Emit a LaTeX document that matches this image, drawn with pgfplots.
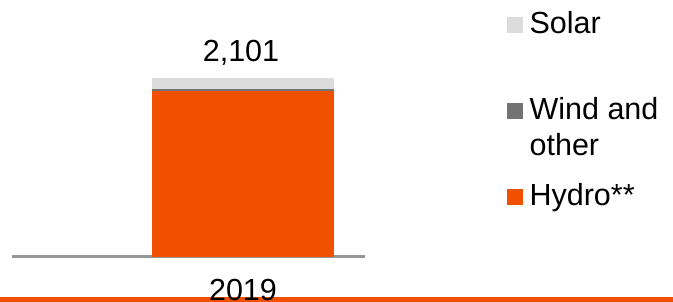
\documentclass[border=0pt]{standalone}
\usepackage{fontspec}
\setmainfont{Liberation Sans}
\usepackage{pgfplots}
\pgfplotsset{compat=1.18}
\definecolor{hydro}{RGB}{240,80,0}
\definecolor{wind}{RGB}{115,115,115}
\definecolor{solar}{RGB}{220,220,220}
\definecolor{axgray}{RGB}{150,150,150}
\begin{document}
\begin{tikzpicture}[font=\fontsize{30.5bp}{36bp}\selectfont]
\path[use as bounding box] (0,0) rectangle (673bp,302bp);
\fill[hydro] (0,0) rectangle (673bp,4.5bp);
\begin{axis}[
 at={(12bp,45.5bp)}, anchor=south west,
 scale only axis, width=353bp, height=178.5bp,
 xmin=-231, xmax=122, ymin=0, ymax=2101,
 axis x line=bottom, axis y line=none,
 x axis line style={-, draw=axgray, line width=2bp},
 ybar stacked, bar width=182,
 xtick={0}, xticklabels={2019}, major tick length=0pt,
 xticklabel style={anchor=base, yshift=-43.5bp, inner sep=0pt},
 ytick=\empty,
 clip=false,
 legend style={at={(axis cs:264,2862)}, anchor=north west, draw=none, fill=none,
   inner sep=0pt, row sep=0pt, column sep=7bp,
   nodes={inner sep=0pt, text depth=}, cells={anchor=base west}},
]
\addlegendimage{legend image code/.code={\fill[solar] (0bp,1bp) rectangle (15bp,16bp);}}
\addlegendentry{\raisebox{0pt}[20bp][65.7bp]{Solar}}
\addlegendimage{legend image code/.code={\fill[wind] (0bp,1bp) rectangle (15bp,16bp);}}
\addlegendentry{\raisebox{0pt}[20bp][16bp]{Wind and}}
\addlegendimage{legend image code/.code={\path[draw=none,fill=none] (0bp,1bp) rectangle (15bp,16bp);}}
\addlegendentry{\raisebox{0pt}[20bp][30bp]{other}}
\addlegendimage{legend image code/.code={\fill[hydro] (0bp,1bp) rectangle (15bp,16bp);}}
\addlegendentry{\raisebox{0pt}[20bp][6bp]{Hydro**}}
\addplot[fill=hydro, draw=none] coordinates {(0,1948)};
\addplot[fill=wind, draw=none] coordinates {(0,20)};
\addplot[fill=solar, draw=none] coordinates {(0,133)};
\node[anchor=base] at (axis cs:-2,2101) [yshift=16.3bp] {2,101};
\end{axis}
\end{tikzpicture}
\end{document}
